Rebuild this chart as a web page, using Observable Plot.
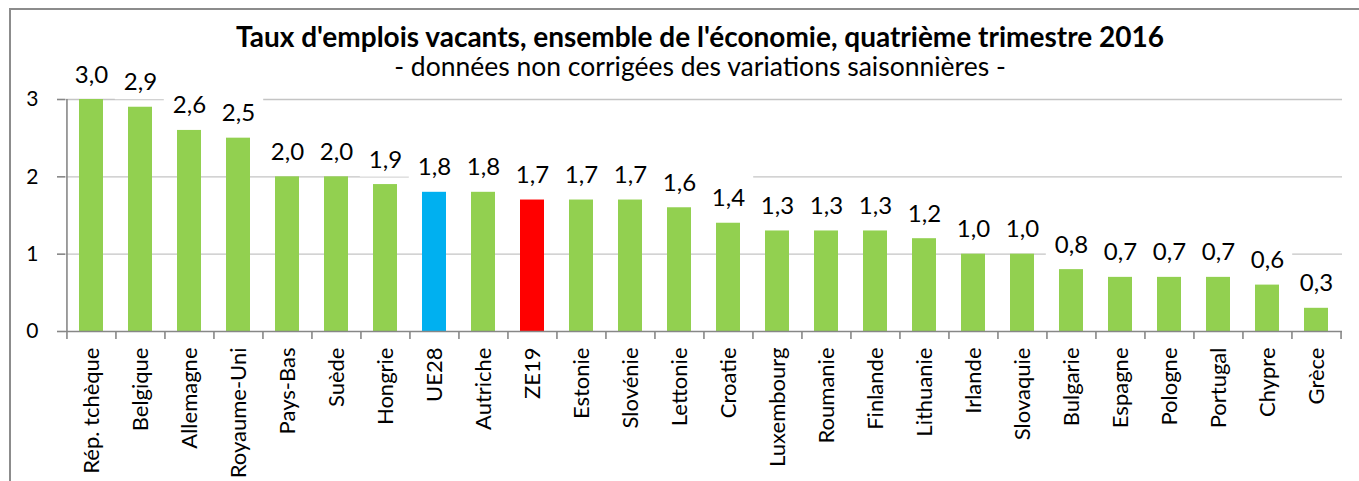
<!DOCTYPE html>
<html>
<head>
<meta charset="utf-8">
<script src="https://cdn.jsdelivr.net/npm/d3@7"></script>
<script src="https://cdn.jsdelivr.net/npm/@observablehq/plot@0.6"></script>
<style>
  html, body { margin: 0; padding: 0; background: #fff; }
  #wrap { position: relative; width: 1359px; height: 481px; overflow: hidden; font-family: Lato, "Open Sans", sans-serif; }
  #frame { position: absolute; left: 9px; top: 8px; width: 1500px; height: 600px; border: 2px solid #8c8c8c; box-sizing: border-box; }
  #chart { position: absolute; left: 0; top: 0; }
  .ttl { position: absolute; left: 0; width: 1400px; text-align: center; line-height: 24px; white-space: nowrap; color: #000; }
  #title { top: 24px; font-size: 28px; font-weight: bold; }
  #subtitle { top: 54px; font-size: 26.5px; }
</style>
</head>
<body>
<div id="wrap">
  <div id="frame"></div>
  <div id="chart"></div>
  <div class="ttl" id="title">Taux d'emplois vacants, ensemble de l'économie, quatrième trimestre 2016</div>
  <div class="ttl" id="subtitle">- données non corrigées des variations saisonnières -</div>
</div>
<script>
const categories = ["Rép. tchèque","Belgique","Allemagne","Royaume-Uni","Pays-Bas","Suède","Hongrie","UE28","Autriche","ZE19","Estonie","Slovénie","Lettonie","Croatie","Luxembourg","Roumanie","Finlande","Lithuanie","Irlande","Slovaquie","Bulgarie","Espagne","Pologne","Portugal","Chypre","Grèce"];
const values = [3.0,2.9,2.6,2.5,2.0,2.0,1.9,1.8,1.8,1.7,1.7,1.7,1.6,1.4,1.3,1.3,1.3,1.2,1.0,1.0,0.8,0.7,0.7,0.7,0.6,0.3];
const yTicks = [0,1,2,3];
const blueCategory = "UE28";
const redCategory = "ZE19";

const W = 1359, H = 481;
const mL = 65, mR = 17, mT = 99, mB = 150;
const step = (W - mL - mR) / categories.length;
const ppu = (H - mT - mB) / 3; // pixels per unit

const data = categories.map((c, i) => ({cat: c, v: values[i]}));
const colorOf = c => c === blueCategory ? "#00B0F0" : c === redCategory ? "#FF0000" : "#92D050";
const fmt = v => v.toFixed(1).replace(".", ",");

const plot = Plot.plot({
  width: W, height: H,
  marginLeft: mL, marginRight: mR, marginTop: mT, marginBottom: mB,
  style: {background: "transparent", fontFamily: "Lato, 'Open Sans', sans-serif", color: "#000", overflow: "visible"},
  x: {domain: categories, paddingInner: 0.52, paddingOuter: 0.26, label: null, axis: null},
  y: {domain: [0, 3], label: null, axis: null},
  color: {type: "identity"},
  marks: [
    Plot.ruleY([1, 2, 3], {stroke: "#c4c4c4", strokeWidth: 1.4}),
    // white label boxes (hide gridlines behind the value labels)
    Plot.barY(data, {x: "cat", y1: d => d.v + 7.5 / ppu, y2: d => d.v + 48 / ppu, fill: "white", insetLeft: -13.2, insetRight: -13.2}),
    Plot.barY(data, {x: "cat", y: "v", fill: d => colorOf(d.cat)}),
    Plot.ruleY([0], {stroke: "#878787", strokeWidth: 1.6}),
    Plot.ruleX([categories[0]], {dx: -step / 2, y1: 0, y2: 3, stroke: "#878787", strokeWidth: 1.6}),
    Plot.ruleX(categories, {x: d => d, dx: -step / 2, y1: 0, y2: -8 / ppu, stroke: "#878787", strokeWidth: 1.6}),
    Plot.ruleX([categories[categories.length - 1]], {dx: step / 2, y1: 0, y2: -8 / ppu, stroke: "#878787", strokeWidth: 1.6}),
    Plot.axisY({ticks: yTicks, tickSize: 8, tickPadding: 19, fontSize: 21, stroke: "#878787", fill: "#000", strokeWidth: 1.6, tickFormat: d => String(d), label: null}),
    Plot.axisX({tickSize: 0, tickRotate: -90, tickPadding: 16, fontSize: 22, fill: "#000", label: null}),
    Plot.text(data, {x: "cat", y: "v", text: d => fmt(d.v), dy: -17, lineAnchor: "bottom", fontSize: 24, fill: "#000"})
  ]
});
document.getElementById("chart").appendChild(plot);
</script>
</body>
</html>
